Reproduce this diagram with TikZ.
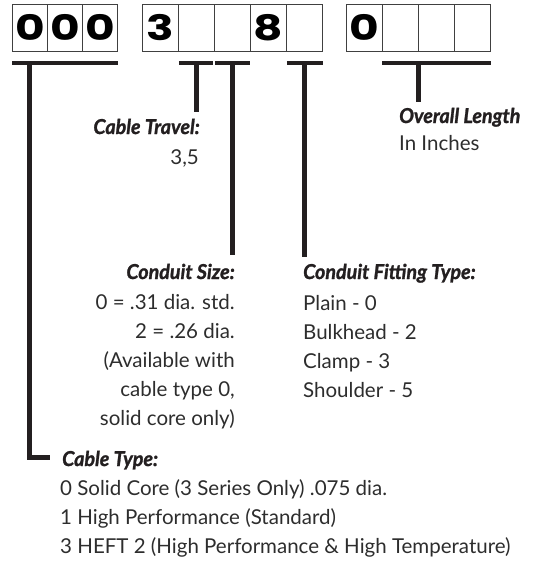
\documentclass[tikz,border=0pt]{standalone}
\usepackage{fontspec}
\setmainfont{Lato}
\newfontfamily\headfam{Lato}[FakeStretch=0.96, FakeBold=1.3]
\newfontfamily\digitfam{Poppins}[FakeStretch=1.3]
\usepackage{tikz}
\usetikzlibrary{positioning}
\definecolor{ink}{RGB}{35,31,32}
\definecolor{textgray}{RGB}{45,45,45}

\begin{document}
\begin{tikzpicture}[
  x=1pt, y=-1pt,
  cell/.style={draw=black!75, line width=0.9pt, minimum width=36pt, minimum height=47pt,
               inner sep=0pt, anchor=north west, font=\digitfam\bfseries\fontsize{35}{35}\selectfont},
  bar/.style={draw=ink, line width=4.5pt},
  stem/.style={draw=ink, line width=5pt},
  head/.style={inner sep=0pt, text=ink, font=\headfam\bfseries\itshape\fontsize{20.5}{29}\selectfont},
  body/.style={inner sep=0pt, text=textgray, font=\fontsize{20.5}{29}\selectfont}
]
  \useasboundingbox (0,0) rectangle (539,563);

  % code boxes
  \foreach \d [count=\i] in {0,0,0}
    \node[cell, minimum width=35pt] (a\i) at ({12+35*(\i-1)},4) {\d};
  \foreach \d [count=\i] in {3,{},{},8,{}}
    \node[cell] (b\i) at ({142+36*(\i-1)},4) {\d};
  \foreach \d [count=\i] in {0,{},{},{}}
    \node[cell] (c\i) at ({346+36*(\i-1)},4) {\d};

  % brackets under the boxes
  \draw[bar] ([yshift=-11pt]a1.south west) -- ([yshift=-11pt]a3.south east);
  \draw[bar] ([shift={(0.8pt,-11pt)}]b2.south west) -- ([shift={(-1.5pt,-11pt)}]b2.south east);
  \draw[bar] ([shift={(0.8pt,-11pt)}]b3.south west) -- ([shift={(-0.8pt,-11pt)}]b3.south east);
  \draw[bar] ([shift={(0.8pt,-11pt)}]b5.south west) -- ([shift={(0pt,-11pt)}]b5.south east);
  \draw[bar] ([yshift=-11pt]c2.south west) -- ([yshift=-11pt]c4.south east);

  \coordinate (ta) at ([yshift=-11pt]a1.south);
  \coordinate (tb2) at ([yshift=-11pt]b2.south);
  \coordinate (tb3) at ([yshift=-11pt]b3.south);
  \coordinate (tb5) at ([yshift=-11pt]b5.south);
  \coordinate (tc) at ([yshift=-11pt]c3.west);
  \coordinate (tc) at (tc |- tb2);

  \coordinate (endTravel) at (tb2 |- 0,112);
  \coordinate (endSize) at (tb3 |- 0,255);
  \coordinate (endFit) at (tb5 |- 0,257);
  \coordinate (endLength) at (tc |- 0,102);
  \coordinate (endType) at (50,457);

  \draw[stem] (tb2) -- (endTravel);
  \draw[stem] (tb3) -- (endSize);
  \draw[stem] (tb5) -- (endFit);
  \draw[stem] (tc) -- (endLength);
  \draw[stem] (ta) |- (endType);

  % labels
  \node[head, anchor=base east] (travelHead) at (200,134) {Cable Travel:};
  \node[body, anchor=base east] (travelVal) at (199,164) {3,5};

  \node[head, anchor=base west] (lengthHead) at (399,123) {Overall Length};
  \node[body, anchor=base west] (lengthVal) at (399,150) {In Inches};

  \node[head, anchor=base east] (sizeHead) at (235,279) {Conduit Size:};
  \foreach \t [count=\i] in {{0 = .31 dia. std.}, {2 = .26 dia.}, {(Available with}, {cable type 0,}, {solid core only)}}
    \node[body, anchor=base east] (size\i) at (235,{280.5+29*\i}) {\t};

  \node[head, anchor=base west] (fitHead) at (303,279) {Conduit Fitting Type:};
  \foreach \t [count=\i] in {{Plain - 0}, {Bulkhead - 2}, {Clamp - 3}, {Shoulder - 5}}
    \node[body, anchor=base west] (fit\i) at (303,{281+29*\i}) {\t};

  \node[head, anchor=base west] (typeHead) at (62,466) {Cable Type:};
  \foreach \t [count=\i] in {{0 Solid Core (3 Series Only) .075 dia.}, {1 High Performance (Standard)}, {3 HEFT 2 (High Performance \& High Temperature)}}
    \node[body, anchor=base west] (type\i) at (60,{466+29*\i}) {\t};
\end{tikzpicture}
\end{document}
